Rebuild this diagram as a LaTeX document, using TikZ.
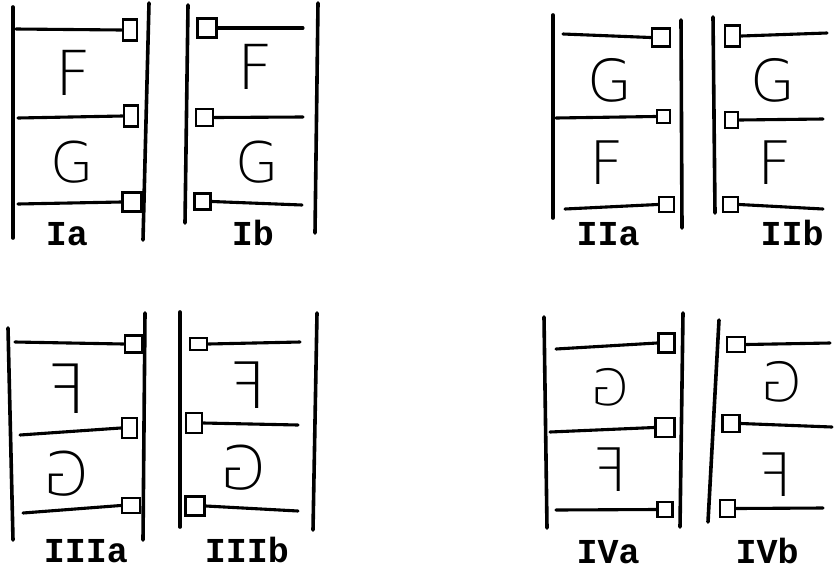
\documentclass[tikz,border=0pt]{standalone}
\usepackage{fontspec}
\newfontfamily\handfont{DejaVu Sans ExtraLight}
\newfontfamily\tagfont{Liberation Mono}

\tikzset{
  wall/.style={line width=3.6pt, line cap=round},
  rung/.style={line width=3.1pt, line cap=round},
  anchorbox/.style={draw, line width=2.8pt, inner sep=0pt,
    minimum width=#1, minimum height=#1},
  anchorbox/.default=16pt,
  glyph/.style={inner sep=0pt, font=\handfont\fontsize{#1}{#1}\selectfont},
  glyph/.default=60,
  flipped/.style={glyph=#1, xscale=-1},
  flipped/.default=60,
  paneltag/.style={anchor=base, inner sep=0pt,
    font=\tagfont\bfseries\fontsize{35}{35}\selectfont}
}

\begin{document}
\begin{tikzpicture}[x=1pt, y=-1pt]

  % Rahmen (835 x 571 px)
  \useasboundingbox (0,0) rectangle (835,571);

  % ---------- Ia ----------
  \draw[wall] (13,7) -- (13,238);
  \draw[wall] (149,3) -- (143,240);
  \node[anchorbox, minimum width=14pt, minimum height=21pt] (ia1) at (130,30) {};
  \node[anchorbox, minimum width=14pt, minimum height=21pt] (ia2) at (131,116) {};
  \node[anchorbox=19pt] (ia3) at (132,202) {};
  \coordinate (ia1e) at (16,29);
  \coordinate (ia2e) at (18,118);
  \coordinate (ia3e) at (18,204);
  \foreach \k in {1,2,3}
    \draw[rung] (ia\k.west) -- (ia\k e);
  \node[glyph=62] (iaF) at (73,73) {F};
  \node[glyph=56] (iaG) at (72,162) {G};
  \node[paneltag] (iatag) at (67,245) {Ia};

  % ---------- Ib ----------
  \draw[wall] (188,5) -- (185,223);
  \draw[wall] (318,3) -- (315,233);
  \node[anchorbox=19pt] (ib1) at (207,28) {};
  \node[anchorbox=17pt] (ib2) at (204.5,117.5) {};
  \node[anchorbox=16pt] (ib3) at (202.5,201.5) {};
  \coordinate (ib1e) at (303,28);
  \coordinate (ib2e) at (303,117);
  \coordinate (ib3e) at (302,205);
  \foreach \k in {1,2,3}
    \draw[rung] (ib\k.east) -- (ib\k e);
  \node[glyph=62] (ibF) at (255,67) {F};
  \node[glyph=56] (ibG) at (257,162) {G};
  \node[paneltag] (ibtag) at (253,245) {Ib};

  % ---------- IIa ----------
  \draw[wall] (553,15) -- (553,218);
  \draw[wall] (681,20) -- (682,228);
  \node[anchorbox=18pt] (iia1) at (661,37.5) {};
  \node[anchorbox=13pt] (iia2) at (663.5,116.5) {};
  \node[anchorbox=15pt] (iia3) at (666.5,204.5) {};
  \coordinate (iia1e) at (563,34);
  \coordinate (iia2e) at (556,118);
  \coordinate (iia3e) at (565,209);
  \foreach \k in {1,2,3}
    \draw[rung] (iia\k.west) -- (iia\k e);
  \node[glyph=58] (iiaG) at (610,80) {G};
  \node[glyph=60] (iiaF) at (607,163) {F};
  \node[paneltag] (iiatag) at (608,245) {IIa};

  % ---------- IIb ----------
  \draw[wall] (713,17) -- (715,213);
  \node[anchorbox, minimum width=15pt, minimum height=21pt] (iib1) at (732.5,36) {};
  \node[anchorbox, minimum width=13pt, minimum height=16pt] (iib2) at (731.5,120) {};
  \node[anchorbox=15pt] (iib3) at (730.5,204.5) {};
  \coordinate (iib1e) at (827,33);
  \coordinate (iib2e) at (823,119);
  \coordinate (iib3e) at (823,209);
  \foreach \k in {1,2,3}
    \draw[rung] (iib\k.east) -- (iib\k e);
  \node[glyph=58] (iibG) at (773,80) {G};
  \node[glyph=60] (iibF) at (775,163) {F};
  \node[paneltag] (iibtag) at (792,245) {IIb};

  % ---------- IIIa (gespiegelt) ----------
  \draw[wall] (8,328) -- (13,540);
  \draw[wall] (145,313) -- (143,540);
  \node[anchorbox=17pt] (iiia1) at (133.5,344) {};
  \node[anchorbox, minimum width=15pt, minimum height=20pt] (iiia2) at (129.5,428) {};
  \node[anchorbox, minimum width=18pt, minimum height=15pt] (iiia3) at (131,505.5) {};
  \coordinate (iiia1e) at (15,342);
  \coordinate (iiia2e) at (20,435);
  \coordinate (iiia3e) at (23,513);
  \foreach \k in {1,2,3}
    \draw[rung] (iiia\k.west) -- (iiia\k e);
  \node[flipped=68] (iiiaF) at (67,389) {F};
  \node[flipped=60] (iiiaG) at (66,474) {G};
  \node[paneltag] (iiiatag) at (86,562) {IIIa};

  % ---------- IIIb (gespiegelt) ----------
  \draw[wall] (180,312) -- (180,527);
  \draw[wall] (317,313) -- (313,530);
  \node[anchorbox, minimum width=17pt, minimum height=12pt] (iiib1) at (198.5,344) {};
  \node[anchorbox, minimum width=16pt, minimum height=20pt] (iiib2) at (194,423) {};
  \node[anchorbox=19pt] (iiib3) at (195,506) {};
  \coordinate (iiib1e) at (300,342);
  \coordinate (iiib2e) at (298,425);
  \coordinate (iiib3e) at (298,511);
  \foreach \k in {1,2,3}
    \draw[rung] (iiib\k.east) -- (iiib\k e);
  \node[flipped=64] (iiibF) at (248,385) {F};
  \node[flipped=60] (iiibG) at (243,468) {G};
  \node[paneltag] (iiibtag) at (247,562) {IIIb};

  % ---------- IVa (gespiegelt) ----------
  \draw[wall] (544,317) -- (547,528);
  \draw[wall] (683,313) -- (680,527);
  \node[anchorbox, minimum width=16pt, minimum height=19pt] (iva1) at (666.5,343) {};
  \node[anchorbox=19pt] (iva2) at (665,427.5) {};
  \node[anchorbox=15pt] (iva3) at (665,509.5) {};
  \coordinate (iva1e) at (556,349);
  \coordinate (iva2e) at (550,432);
  \coordinate (iva3e) at (556,510);
  \foreach \k in {1,2,3}
    \draw[rung] (iva\k.west) -- (iva\k e);
  \node[flipped=50] (ivaG) at (610,387) {G};
  \node[flipped=60] (ivaF) at (610,470) {F};
  \node[paneltag] (ivatag) at (608,563) {IVa};

  % ---------- IVb (gespiegelt) ----------
  \draw[wall] (719,320) -- (708,522);
  \node[anchorbox, minimum width=18pt, minimum height=15pt] (ivb1) at (736,344.5) {};
  \node[anchorbox=17pt] (ivb2) at (731,423.5) {};
  \node[anchorbox, minimum width=15pt, minimum height=17pt] (ivb3) at (727.5,508.5) {};
  \coordinate (ivb1e) at (830,343);
  \coordinate (ivb2e) at (832,427);
  \coordinate (ivb3e) at (823,508);
  \foreach \k in {1,2,3}
    \draw[rung] (ivb\k.east) -- (ivb\k e);
  \node[flipped=54] (ivbG) at (782,382) {G};
  \node[flipped=60] (ivbF) at (775,475) {F};
  \node[paneltag] (ivbtag) at (767,563) {IVb};

\end{tikzpicture}
\end{document}
